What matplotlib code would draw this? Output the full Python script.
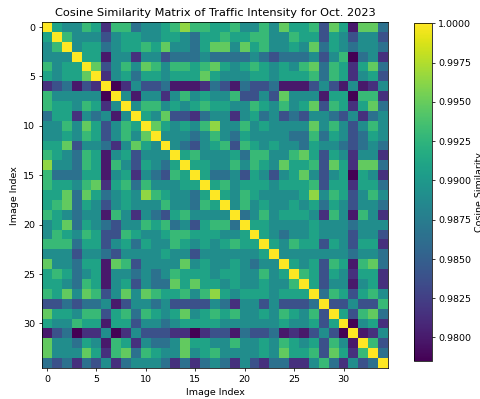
import numpy as np
import matplotlib
matplotlib.use("Agg")
import matplotlib.pyplot as plt

# colour levels (0 = darkest purple ... 9 = yellow-green)
level_values = [0.9785, 0.9800, 0.9815, 0.9838, 0.9865,
                0.9890, 0.9910, 0.9930, 0.9948, 0.9964]

# upper triangle, row i lists columns i+1 .. 34
upper_rows = [
    "6557627745567977667557586673861884",
    "755535665566546676677557663653553",
    "56645667685546885867556584654554",
    "6615525534445444454344453570452",
    "835758757767865676565784762684",
    "25646656668655566566674762563",
    "0253341112431433411135315125",
    "515525756557335385551660772",
    "57756567665576575683762684",
    "6583324552564534355435245",
    "865657955756555585753575",
    "55545754655554474653465",
    "5435673765655465543454",
    "675556477557863652552",
    "66557576586673862884",
    "6445365356853560652",
    "675666566673662664",
    "65765555695763575",
    "5756556564653554",
    "457566652751752",
    "66555565554555",
    "6545565553553",
    "657663653662",
    "55555554554",
    "6563761784",
    "763652662",
    "63551562",
    "4763675",
    "335337",
    "63784",
    "0562",
    "125",
    "73",
    "4",
    "",
]

n = len(upper_rows)
sim = np.ones((n, n))
for i, row in enumerate(upper_rows):
    for k, ch in enumerate(row):
        j = i + 1 + k
        sim[i, j] = level_values[int(ch)]
        sim[j, i] = sim[i, j]

fig = plt.figure(figsize=(7.0, 5.82), dpi=480 / 7.0)
ax = fig.add_axes([0.0875, 0.0777, 0.7208, 0.867])
cax = fig.add_axes([0.8625, 0.0952, 0.0365, 0.846])

im = ax.imshow(sim, cmap="viridis", vmin=0.9785, vmax=1.0)
ax.set_title("Cosine Similarity Matrix of Traffic Intensity for Oct. 2023")
ax.set_xlabel("Image Index")
ax.set_ylabel("Image Index")
ax.set_xticks(range(0, 31, 5))
ax.set_yticks(range(0, 31, 5))

cbar = fig.colorbar(im, cax=cax)
cbar.set_ticks(np.arange(0.98, 1.0001, 0.0025))
cbar.ax.yaxis.set_major_formatter(matplotlib.ticker.FormatStrFormatter("%.4f"))
cbar.set_label("Cosine Similarity")

fig.savefig("out.png", dpi=480 / 7.0)
